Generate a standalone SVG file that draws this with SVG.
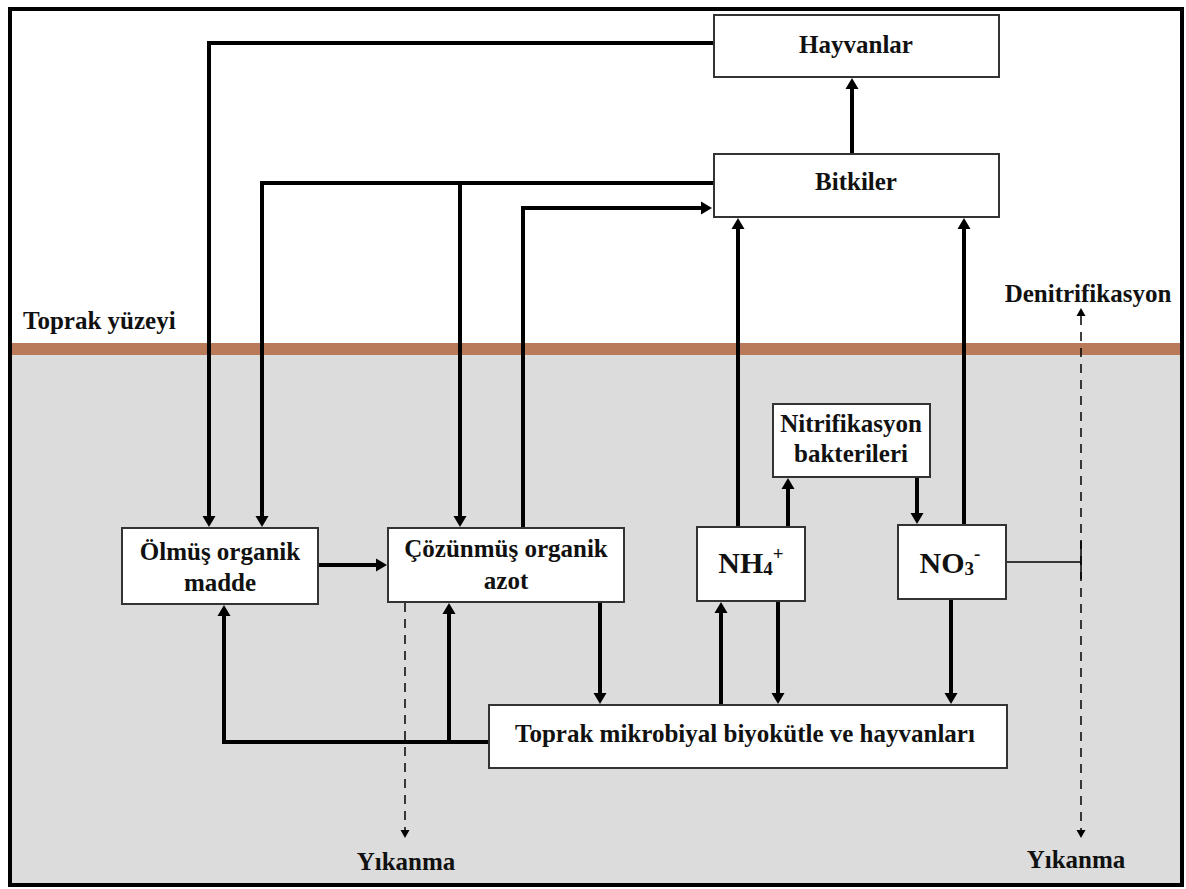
<svg xmlns="http://www.w3.org/2000/svg" width="1186" height="889" viewBox="0 0 1186 889">
<style>
.t{font-family:"Liberation Serif","Times New Roman",serif;font-weight:bold;font-size:25px;fill:#111;text-anchor:middle}
.tl{text-anchor:start}
.box{fill:#fff;stroke:#333;stroke-width:2}
.c{fill:none;stroke:#000;stroke-width:4;marker-end:url(#ah)}
.d{fill:none;stroke:#000;stroke-width:1.5;stroke-dasharray:9 7}
.thin{fill:none;stroke:#000;stroke-width:1.5}
</style>
<defs>
<marker id="ah" markerUnits="userSpaceOnUse" markerWidth="12" markerHeight="14" viewBox="0 -7 12 14" refX="0" refY="0" orient="auto">
<path d="M0,-6.5 L11,0 L0,6.5 Z" fill="#000"/>
</marker>
<marker id="sm" markerUnits="userSpaceOnUse" markerWidth="9" markerHeight="10" viewBox="0 -5 9 10" refX="0" refY="0" orient="auto-start-reverse">
<path d="M0,-4.5 L8,0 L0,4.5 Z" fill="#000"/>
</marker>
</defs>
<rect x="0" y="0" width="1186" height="889" fill="#fff"/>
<rect x="10" y="355" width="1172" height="530" fill="#dcdcdc"/>
<rect x="10" y="343" width="1173" height="12" fill="#b87a58"/>
<g id="connectors">
<path class="c" d="M714,43 H209 V516"/>
<path class="c" d="M714,183 H262 V516"/>
<path class="c" d="M460,183 V516"/>
<path class="c" d="M523,528 V208 H701"/>
<path class="c" d="M852,154 V89"/>
<path class="c" d="M738,527 V229"/>
<path class="c" d="M964,525 V229"/>
<path class="c" d="M788,527 V489"/>
<path class="c" d="M917,477 V513"/>
<path class="c" d="M318,565 H376"/>
<path class="c" d="M600,602 V693"/>
<path class="c" d="M721,705 V613"/>
<path class="c" d="M778,601 V693"/>
<path class="c" d="M951,599 V693"/>
<path class="c" d="M489,742 H224 V616"/>
<path class="c" d="M449,742 V614"/>
<path class="d" d="M405,603 V830" marker-end="url(#sm)"/>
<path class="d" d="M1081,316 V830" marker-start="url(#sm)" marker-end="url(#sm)"/>
<path class="thin" d="M1006,562 H1081 M1081,541 V579"/>
</g>
<g id="hayvanlar"><rect class="box" x="714" y="15" width="285" height="62"/><text class="t" x="856" y="53">Hayvanlar</text></g>
<g id="bitkiler"><rect class="box" x="714" y="154" width="285" height="63"/><text class="t" x="856" y="190">Bitkiler</text></g>
<g id="olmus"><rect class="box" x="122" y="528" width="196" height="76"/><text class="t" x="220" y="560">Ölmüş organik</text><text class="t" x="220" y="591">madde</text></g>
<g id="cozunmus"><rect class="box" x="388" y="528" width="236" height="74"/><text class="t" x="506" y="557">Çözünmüş organik</text><text class="t" x="506" y="589">azot</text></g>
<g id="nitrifikasyon"><rect class="box" x="773" y="404" width="157" height="73"/><text class="t" x="851" y="432">Nitrifikasyon</text><text class="t" x="851" y="462">bakterileri</text></g>
<g id="nh4"><rect class="box" x="697" y="527" width="108" height="74"/><text class="t" x="751" y="573" style="font-size:30px">NH<tspan style="font-size:19px" dy="2">4</tspan><tspan style="font-size:19px" dy="-15">+</tspan></text></g>
<g id="no3"><rect class="box" x="898" y="525" width="108" height="74"/><text class="t" x="950" y="573" style="font-size:30px">NO<tspan style="font-size:19px" dy="2">3</tspan><tspan style="font-size:19px" dy="-15">-</tspan></text></g>
<g id="toprak"><rect class="box" x="489" y="705" width="518" height="63"/><text class="t" x="745" y="742">Toprak mikrobiyal biyokütle ve hayvanları</text></g>
<g id="labels">
<text class="t tl" x="23" y="329">Toprak yüzeyi</text>
<text class="t" x="1088" y="302">Denitrifikasyon</text>
<text class="t" x="406" y="870">Yıkanma</text>
<text class="t" x="1076" y="868">Yıkanma</text>
</g>
<rect x="10" y="9" width="1172" height="876" fill="none" stroke="#000" stroke-width="4"/>
</svg>
